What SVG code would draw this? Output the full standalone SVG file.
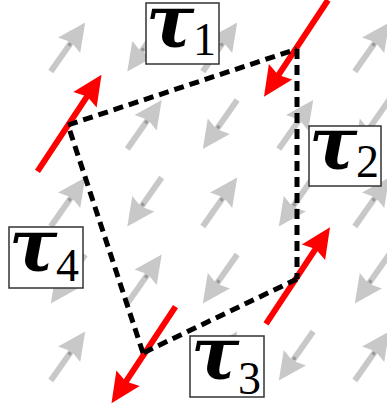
<svg xmlns="http://www.w3.org/2000/svg" xmlns:xlink="http://www.w3.org/1999/xlink" width="387" height="409" viewBox="0 0 387 409">
<style>
.ga{fill:#c8c8c8}
.gd{fill:#999}
.ra{fill:#ff0000}
.edge{fill:none;stroke:#000;stroke-width:5;stroke-dasharray:10 6}
.box{fill:#fff;stroke:#333;stroke-width:1.5}
.tau{font-family:"DejaVu Serif",serif;font-weight:bold;font-style:italic;font-size:72px;fill:#000}
.sub{font-family:"Liberation Serif",serif;font-size:46px;fill:#000}
</style>
<defs>
<g id="garrow"><path class="ga" d="M-30,-3 L5,-3 L2,-13.5 L30,0 L2,13.5 L5,3 L-30,3 Z"/><circle class="gd" cx="3" cy="0" r="1.8"/></g>
<path id="rarrow" class="ra" d="M-58,-3 L31,-3 L28,-14 L58,0 L28,14 L31,3 L-58,3 Z"/>
</defs>
<g id="field">
<use xlink:href="#garrow" transform="translate(68,47) rotate(-55)"/>
<use xlink:href="#garrow" transform="translate(144.5,47) rotate(125)"/>
<use xlink:href="#garrow" transform="translate(220,47) rotate(-55)"/>
<use xlink:href="#garrow" transform="translate(372,47) rotate(-55)"/>
<use xlink:href="#garrow" transform="translate(144.5,124.5) rotate(-55)"/>
<use xlink:href="#garrow" transform="translate(220,124.5) rotate(125)"/>
<use xlink:href="#garrow" transform="translate(296,124.5) rotate(-55)"/>
<use xlink:href="#garrow" transform="translate(372,124.5) rotate(125)"/>
<use xlink:href="#garrow" transform="translate(68,202) rotate(-55)"/>
<use xlink:href="#garrow" transform="translate(144.5,202) rotate(125)"/>
<use xlink:href="#garrow" transform="translate(220,202) rotate(-55)"/>
<use xlink:href="#garrow" transform="translate(296,202) rotate(125)"/>
<use xlink:href="#garrow" transform="translate(372,202) rotate(-55)"/>
<use xlink:href="#garrow" transform="translate(68,279) rotate(125)"/>
<use xlink:href="#garrow" transform="translate(144.5,279) rotate(-55)"/>
<use xlink:href="#garrow" transform="translate(220,279) rotate(125)"/>
<use xlink:href="#garrow" transform="translate(372,279) rotate(125)"/>
<use xlink:href="#garrow" transform="translate(68,356) rotate(-55)"/>
<use xlink:href="#garrow" transform="translate(220,356) rotate(-55)"/>
<use xlink:href="#garrow" transform="translate(296,356) rotate(125)"/>
<use xlink:href="#garrow" transform="translate(372,356) rotate(-55)"/>
</g>
<g id="tangents">
<use xlink:href="#rarrow" transform="translate(296,48.5) rotate(123.5)"/>
<use xlink:href="#rarrow" transform="translate(69.5,123) rotate(-56.5)"/>
<use xlink:href="#rarrow" transform="translate(298,275.5) rotate(-56.5)"/>
<use xlink:href="#rarrow" transform="translate(143.5,355) rotate(123.5)"/>
</g>
<g id="connectors">
<path class="edge" d="M68,125 L297,49"/>
<path class="edge" d="M297,49 L297,279"/>
<path class="edge" d="M297,279 L143,353"/>
<path class="edge" d="M143,353 L68,125"/>
</g>
<g id="tau1"><rect class="box" x="146" y="3" width="73" height="61"/><text class="tau" x="146" y="47">τ</text><text class="sub" x="193" y="55">1</text></g>
<g id="tau2"><rect class="box" x="309" y="126" width="72" height="60"/><text class="tau" x="309" y="169">τ</text><text class="sub" x="356" y="177">2</text></g>
<g id="tau4"><rect class="box" x="9" y="227" width="74" height="61"/><text class="tau" x="9" y="271">τ</text><text class="sub" x="56" y="281">4</text></g>
<g id="tau3"><rect class="box" x="190" y="336" width="74" height="61"/><text class="tau" x="191" y="379">τ</text><text class="sub" x="238" y="394">3</text></g>
</svg>
